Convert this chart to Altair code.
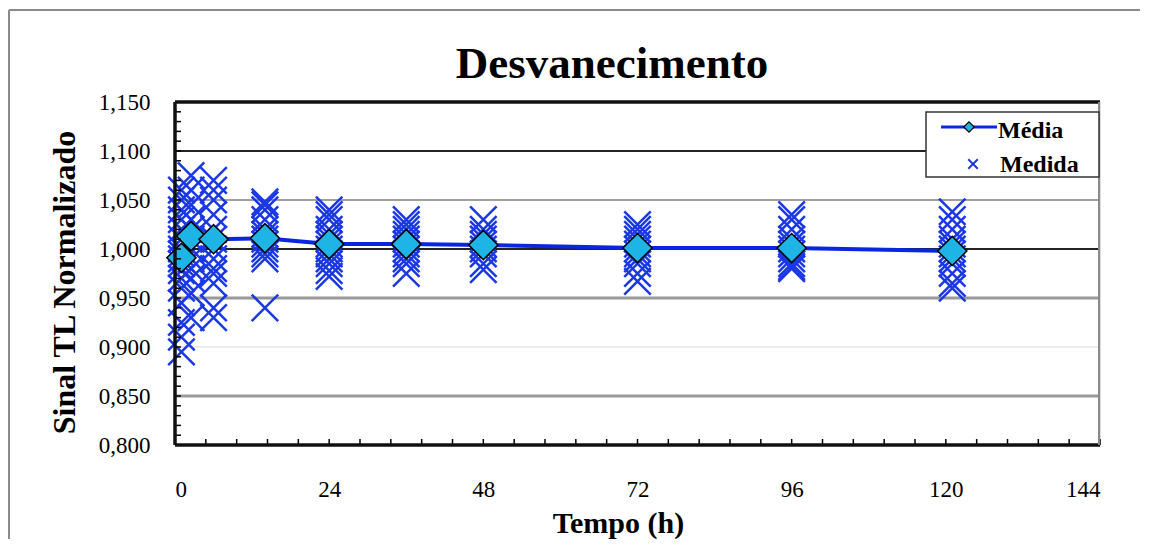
import altair as alt
import pandas as pd
import numpy as np

# ---- data ----
media_t = [1, 2.5, 6, 14, 24, 36, 48, 72, 96, 121]
media_v = [0.991, 1.013, 1.010, 1.011, 1.005, 1.005, 1.004, 1.001, 1.001, 0.998]

medida_t = [1, 2.5, 6, 14, 24, 36, 48, 72, 96, 121]
medida_t1 = [0.895, 0.91, 0.925, 0.945, 0.96, 0.97, 0.978, 0.985, 0.99, 0.995, 1.0, 1.01, 1.02, 1.03, 1.04, 1.05, 1.06]
medida_t2 = [0.93, 0.955, 0.97, 0.98, 0.99, 1.0, 1.01, 1.02, 1.03, 1.045, 1.06, 1.075]
medida_t3 = [0.93, 0.94, 0.965, 0.975, 0.98, 0.99, 1.0, 1.01, 1.02, 1.035, 1.05, 1.06, 1.07]
medida_t4 = [0.94, 0.99, 0.995, 1.0, 1.005, 1.01, 1.015, 1.02, 1.03, 1.04, 1.045, 1.048]
medida_t5 = [0.972, 0.978, 0.985, 0.99, 0.995, 1.0, 1.005, 1.01, 1.015, 1.02, 1.03, 1.035, 1.04]
medida_t6 = [0.975, 0.985, 0.99, 0.995, 1.0, 1.005, 1.01, 1.015, 1.02, 1.025, 1.03]
medida_t7 = [0.979, 0.985, 0.995, 1.0, 1.005, 1.01, 1.015, 1.02, 1.03]
medida_t8 = [0.967, 0.975, 0.985, 0.99, 0.995, 1.0, 1.005, 1.01, 1.015, 1.02, 1.025]
medida_t9 = [0.98, 0.982, 0.985, 0.99, 0.995, 1.0, 1.005, 1.01, 1.02, 1.03, 1.035]
medida_t10 = [0.96, 0.965, 0.975, 0.985, 0.99, 0.995, 1.0, 1.005, 1.01, 1.02, 1.03, 1.038]
medida_vals = [medida_t1, medida_t2, medida_t3, medida_t4, medida_t5,
               medida_t6, medida_t7, medida_t8, medida_t9, medida_t10]

x_ticks = [0, 24, 48, 72, 96, 120, 144]
y_ticks = [0.80, 0.85, 0.90, 0.95, 1.00, 1.05, 1.10, 1.15]

grid_black = [1.10, 1.00]
grid_gray_thin = [1.05]
grid_gray_thick = [0.95, 0.85]
grid_light = [0.90]

chart_title = "Desvanecimento"
legend_labels = ["Média", "Medida"]

# ---- tables ----
media_df = pd.DataFrame({"t": media_t, "v": media_v})
rows = []
for t, vals in zip(medida_t, medida_vals):
    for v in vals:
        rows.append({"t": t, "v": v})
medida_df = pd.DataFrame(rows)

W, H = 925, 343
xs = alt.Scale(domain=[0, 144], nice=False, zero=False)
ys = alt.Scale(domain=[0.80, 1.15], nice=False, zero=False)
SERIF = "Liberation Serif"

x_axis = alt.Axis(values=x_ticks, grid=False, ticks=False, domain=False,
                  labelFont=SERIF, labelFontSize=23, labelColor="black",
                  labelPadding=33, title="Tempo (h)", titleFont=SERIF,
                  titleFontSize=30, titleFontWeight="bold", titleColor="black",
                  titleX=443, titleY=87, titleBaseline="alphabetic")
y_axis = alt.Axis(values=y_ticks, grid=False, ticks=False, domain=False,
                  labelFont=SERIF, labelFontSize=23, labelColor="black",
                  labelPadding=25, labelBaseline="middle",
                  labelExpr="replace(format(datum.value, '.3f'), '.', ',')",
                  title="Sinal TL Normalizado", titleFont=SERIF,
                  titleFontSize=32, titleFontWeight="bold", titleColor="black",
                  titleX=-101, titleY=180, titleAngle=-90, titleBaseline="alphabetic")

XE = dict(scale=xs, axis=x_axis)
YE = dict(scale=ys, axis=y_axis)

def hrules(vals, color, width):
    return alt.Chart(pd.DataFrame({"v": vals})).mark_rule(
        color=color, strokeWidth=width).encode(
        y=alt.Y("v:Q", **YE),
        x=alt.value(0), x2=alt.value(W))

grid = (hrules(grid_light, "#ececec", 2)
        + hrules(grid_gray_thin, "#808080", 1.5)
        + hrules(grid_gray_thick, "#999999", 3)
        + hrules(grid_black, "#222222", 2))

# minor ticks (inward)
y_minor = [round(v, 2) for v in np.arange(0.80, 1.1501, 0.01)]
x_minor = [round(v, 1) for v in np.arange(0, 144.01, 4.8)]
ytick = alt.Chart(pd.DataFrame({"v": y_minor})).mark_rule(color="black", strokeWidth=1.5).encode(
    y=alt.Y("v:Q", **YE), x=alt.value(0), x2=alt.value(6))
xtick = alt.Chart(pd.DataFrame({"t": x_minor})).mark_rule(color="black", strokeWidth=1.5).encode(
    x=alt.X("t:Q", **XE), y=alt.value(H), y2=alt.value(H - 6))

one = pd.DataFrame({"a": [0]})
frame = (
    alt.Chart(one).mark_rule(color="#111111", strokeWidth=3.5).encode(
        x=alt.value(0), x2=alt.value(W), y=alt.value(0))
    + alt.Chart(one).mark_rule(color="#111111", strokeWidth=3.5).encode(
        x=alt.value(0), x2=alt.value(W), y=alt.value(H))
    + alt.Chart(one).mark_rule(color="#111111", strokeWidth=3.5).encode(
        x=alt.value(0), y=alt.value(0), y2=alt.value(H))
    + alt.Chart(one).mark_rule(color="#8a8a8a", strokeWidth=2).encode(
        x=alt.value(W - 1), y=alt.value(0), y2=alt.value(H))
    + alt.Chart(one).mark_rule(color="#8a8a8a", strokeWidth=2).encode(
        x=alt.value(-166), x2=alt.value(W + 40), y=alt.value(-92))
    + alt.Chart(one).mark_rule(color="#8a8a8a", strokeWidth=2).encode(
        x=alt.value(-166), y=alt.value(-92), y2=alt.value(H + 94))
)

title_mark = alt.Chart(pd.DataFrame({"s": [chart_title]})).mark_text(
    font=SERIF, fontSize=45, fontWeight="bold", align="center", baseline="alphabetic",
    color="black").encode(text="s:N", x=alt.value(437), y=alt.value(-24))

XPATH = "M-1,-1L1,1M1,-1L-1,1"
BLUE = "#1b38e6"
medida = alt.Chart(medida_df).mark_point(
    shape=XPATH, filled=False, size=700, strokeWidth=2.5, color=BLUE, opacity=1).encode(
    x=alt.X("t:Q", **XE),
    y=alt.Y("v:Q", **YE))

media_line = alt.Chart(media_df).mark_line(color="#0a26e0", strokeWidth=4).encode(
    x=alt.X("t:Q", **XE), y=alt.Y("v:Q", **YE))
media_pts = alt.Chart(media_df).mark_point(
    shape="diamond", filled=True, fill="#1fb4e6", stroke="black", strokeWidth=1.5,
    size=850, opacity=1).encode(
    x=alt.X("t:Q", **XE), y=alt.Y("v:Q", **YE))

# legend
lg = (
    alt.Chart(one).mark_rect(fill="white", stroke="#333333", strokeWidth=1.5).encode(
        x=alt.value(751), x2=alt.value(924), y=alt.value(10), y2=alt.value(75))
    + alt.Chart(one).mark_rule(color="#0a26e0", strokeWidth=3).encode(
        x=alt.value(766), x2=alt.value(822), y=alt.value(25))
    + alt.Chart(one).mark_point(shape="diamond", filled=True, fill="#1fb4e6", stroke="black",
                                strokeWidth=1.2, size=110, opacity=1).encode(
        x=alt.value(794), y=alt.value(25))
    + alt.Chart(one).mark_point(shape=XPATH, filled=False, size=90, strokeWidth=2,
                                color=BLUE, opacity=1).encode(
        x=alt.value(798), y=alt.value(62))
    + alt.Chart(pd.DataFrame({"s": [legend_labels[0]]})).mark_text(
        font=SERIF, fontSize=24, fontWeight="bold", align="left", baseline="alphabetic",
        color="black").encode(text="s:N", x=alt.value(823), y=alt.value(36))
    + alt.Chart(pd.DataFrame({"s": [legend_labels[1]]})).mark_text(
        font=SERIF, fontSize=24, fontWeight="bold", align="left", baseline="alphabetic",
        color="black").encode(text="s:N", x=alt.value(825), y=alt.value(70))
)

chart = alt.layer(grid, medida, media_line, media_pts, ytick, xtick, frame, lg, title_mark).properties(
    width=W, height=H,
    autosize=alt.AutoSizeParams(type="none"),
    padding={"left": 167, "top": 94, "right": 40, "bottom": 94},
).configure_view(stroke=None).configure(background="white")

chart.save("out.html", embed_options={"renderer": "svg", "actions": False})
